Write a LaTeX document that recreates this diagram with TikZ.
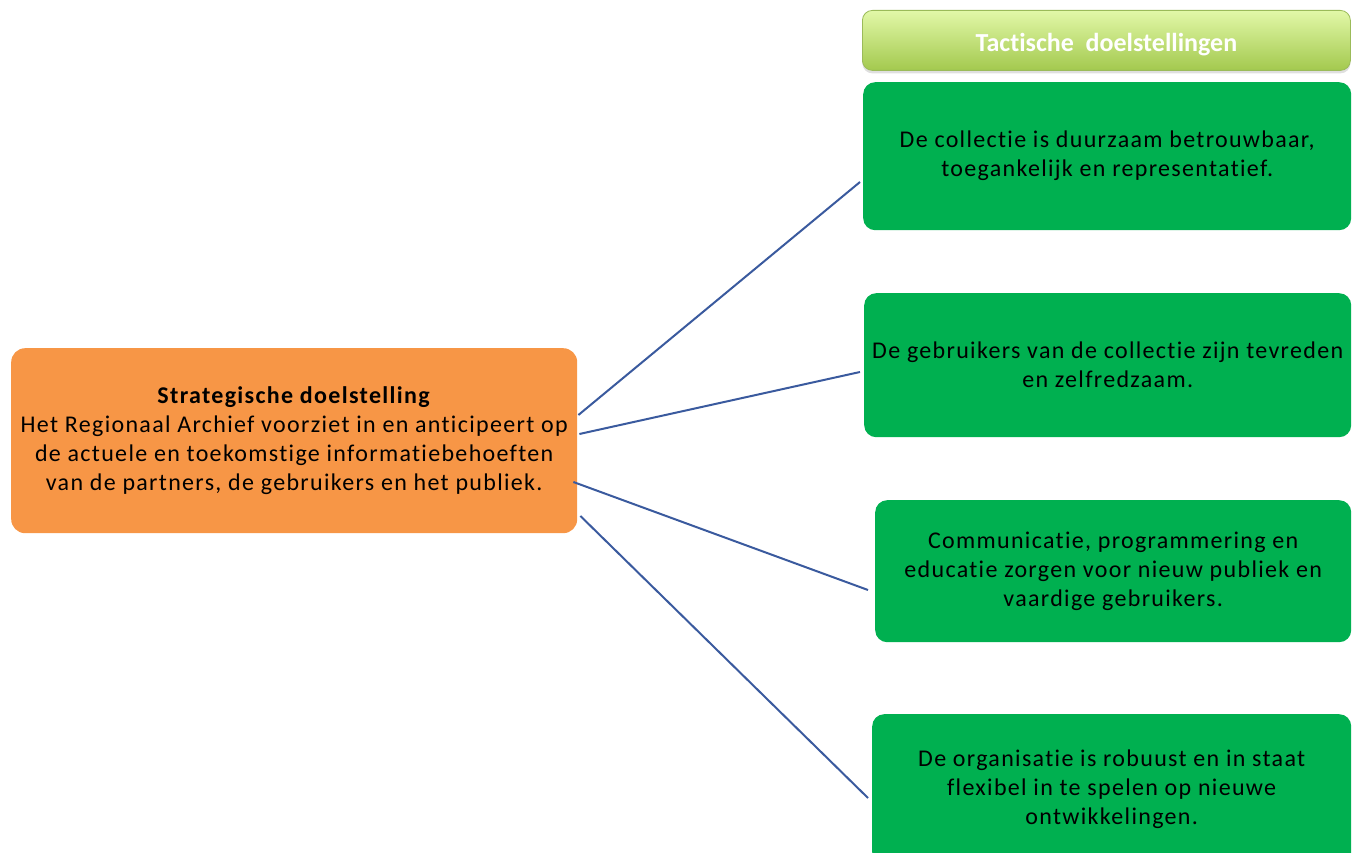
\documentclass[tikz,border=0pt]{standalone}
\usepackage{fontspec}
\setmainfont[Ligatures=NoCommon]{Carlito}
\newfontfamily\spacedfont[LetterSpace=5.5,Ligatures=NoCommon]{Carlito}
\usetikzlibrary{shadows,calc}
\definecolor{orangebox}{HTML}{F79646}
\definecolor{greenbox}{HTML}{00B050}
\definecolor{linkblue}{HTML}{3A5A9E}
\definecolor{hdrtop}{HTML}{E2F8A8}
\definecolor{hdrbot}{HTML}{A3C94E}
\definecolor{hdrline}{HTML}{9BBB59}
\tikzset{
  goalbox/.style={draw=none, fill=greenbox, rounded corners=12pt, anchor=north west,
    align=center, inner sep=0pt, font=\spacedfont\fontsize{24}{29}\selectfont},
  stratbox/.style={draw=none, fill=orangebox, rounded corners=14pt, anchor=north west,
    align=center, inner sep=0pt, font=\spacedfont\fontsize{24}{29}\selectfont},
  hdrbox/.style={draw=hdrline, line width=0.8pt, top color=hdrtop, bottom color=hdrbot,
    rounded corners=10pt, anchor=north west, align=center, inner sep=0pt,
    text=white, font=\fontsize{26}{30}\selectfont\bfseries,
    drop shadow={opacity=0.25, shadow xshift=0pt, shadow yshift=-3pt}},
  link/.style={draw=linkblue, line width=2pt}
}
\begin{document}
\begin{tikzpicture}[x=1pt,y=-1pt]
\useasboundingbox (0,0) rectangle (1358,853);
\node[hdrbox, minimum width=488pt, minimum height=60pt] (hdr) at (862,10) {\raisebox{-4pt}[\height][\depth]{Tactische\ \ doelstellingen}};
\node[goalbox, minimum width=488pt, minimum height=148pt] (t1) at (863,82)
  {De collectie is duurzaam betrouwbaar,\\toegankelijk en representatief.};
\node[goalbox, minimum width=487pt, minimum height=144pt] (t2) at (864,293)
  {De gebruikers van de collectie zijn tevreden\\en zelfredzaam.};
\node[goalbox, minimum width=476pt, minimum height=142pt] (t3) at (875,500)
  {Communicatie, programmering en\\educatie zorgen voor nieuw publiek en\\vaardige gebruikers.};
\node[goalbox, minimum width=479pt, minimum height=150pt] (t4) at (872,714)
  {De organisatie is robuust en in staat\\flexibel in te spelen op nieuwe\\ontwikkelingen.};
\node[stratbox, minimum width=566pt, minimum height=185pt] (s) at (11,348)
  {\textbf{Strategische doelstelling}\\Het Regionaal Archief voorziet in en anticipeert op\\de actuele en toekomstige informatiebehoeften\\van de partners, de gebruikers en het publiek.};
\draw[link] ($(s.north east)+(1,67)$) -- ($(t1.north west)+(-3,100)$);
\draw[link] ($(s.north east)+(2,86)$) -- ($(t2.north west)+(-4,79)$);
\draw[link] ($(s.north east)+(-4,134)$) -- ($(t3.north west)+(-7,90)$);
\draw[link] ($(s.north east)+(3,168)$) -- ($(t4.north west)+(-4,84)$);
\end{tikzpicture}
\end{document}
